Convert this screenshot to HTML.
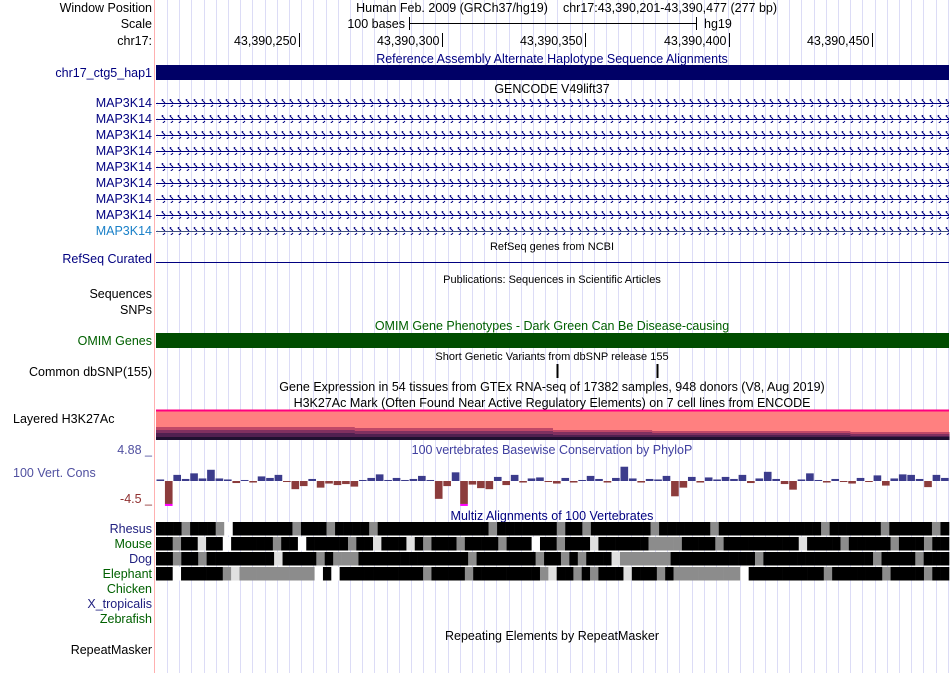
<!DOCTYPE html>
<html><head><meta charset="utf-8">
<style>
body{margin:0;background:#fff;width:950px;height:673px;overflow:hidden;font-family:"Liberation Sans",sans-serif}
svg text{font-family:"Liberation Sans",sans-serif;font-size:12.5px}
</style></head><body>
<svg id="c" width="950" height="673" xmlns="http://www.w3.org/2000/svg">
<defs>
<pattern id="chev" x="0" y="0" width="8" height="8" patternUnits="userSpaceOnUse">
<path d="M5,1 L2,4 L5,7" stroke="#000080" stroke-width="1" fill="none"/>
</pattern>
</defs>
<g id="grid"></g>
<line x1="154.5" y1="0" x2="154.5" y2="673" stroke="#ffb0b0" stroke-width="1"/>
<g id="labels" text-anchor="end">
<text x="152" y="12">Window Position</text>
<text x="152" y="28">Scale</text>
<text x="152" y="45">chr17:</text>
<text x="152" y="77" fill="#000080">chr17_ctg5_hap1</text>
<text x="152" y="263" fill="#000080">RefSeq Curated</text>
<text x="152" y="298">Sequences</text>
<text x="152" y="314">SNPs</text>
<text x="152" y="345" fill="#006000">OMIM Genes</text>
<text x="152" y="376">Common dbSNP(155)</text>
<text x="152" y="454" fill="#5050a0">4.88 _</text>
<text x="152" y="503" fill="#903030">-4.5 _</text>
<text x="152" y="533" fill="#202080">Rhesus</text>
<text x="152" y="548" fill="#006000">Mouse</text>
<text x="152" y="563" fill="#202080">Dog</text>
<text x="152" y="578" fill="#006000">Elephant</text>
<text x="152" y="593" fill="#006000">Chicken</text>
<text x="152" y="608" fill="#202080">X_tropicalis</text>
<text x="152" y="623" fill="#006000">Zebrafish</text>
<text x="152" y="654">RepeatMasker</text>
</g>
<text x="13" y="423">Layered H3K27Ac</text>
<text x="13" y="477" fill="#5050a0">100 Vert. Cons</text>
<g id="titles" text-anchor="middle">
<text x="452" y="12">Human Feb. 2009 (GRCh37/hg19)</text>
<text x="670" y="12">chr17:43,390,201-43,390,477 (277 bp)</text>
<text x="552" y="63" fill="#000080">Reference Assembly Alternate Haplotype Sequence Alignments</text>
<text x="552" y="93">GENCODE V49lift37</text>
<text x="552" y="250" font-size="11" style="font-size:11px">RefSeq genes from NCBI</text>
<text x="552" y="283" style="font-size:11px">Publications: Sequences in Scientific Articles</text>
<text x="552" y="330" fill="#006000">OMIM Gene Phenotypes - Dark Green Can Be Disease-causing</text>
<text x="552" y="360" style="font-size:11px">Short Genetic Variants from dbSNP release 155</text>
<text x="552" y="391">Gene Expression in 54 tissues from GTEx RNA-seq of 17382 samples, 948 donors (V8, Aug 2019)</text>
<text x="552" y="407">H3K27Ac Mark (Often Found Near Active Regulatory Elements) on 7 cell lines from ENCODE</text>
<text x="552" y="454" fill="#4040a0">100 vertebrates Basewise Conservation by PhyloP</text>
<text x="552" y="520" fill="#000080">Multiz Alignments of 100 Vertebrates</text>
<text x="552" y="640">Repeating Elements by RepeatMasker</text>
</g>
<g>
<text x="405" y="28" text-anchor="end">100 bases</text>
<line x1="409" y1="23.5" x2="696" y2="23.5" stroke="#000"/>
<line x1="409.5" y1="17" x2="409.5" y2="30" stroke="#000"/>
<line x1="696.5" y1="17" x2="696.5" y2="30" stroke="#000"/>
<text x="704" y="28">hg19</text>
</g>
<g id="ruler"></g>
<rect x="156" y="65" width="793" height="15" fill="#000066"/>
<g id="genes"></g>
<line x1="156" y1="262.5" x2="949" y2="262.5" stroke="#000080"/>
<rect x="156" y="333" width="793" height="15" fill="#004d00"/>
<g id="snps"></g>
<g id="h3k"></g>
<g id="phylop"></g>
<g id="multiz"></g>
</svg>
<script>
const NS="http://www.w3.org/2000/svg";
const startBase=43390200, endBase=43390477;
const rulerTicks=[43390250,43390300,43390350,43390400,43390450];
const snpPositions=[43390340,43390375];
const phylopVals=[0.3,-4.5,1.2,0.4,1.5,0.5,2.2,0.5,0.3,-0.4,0.2,-0.3,0.9,0.6,1.2,-0.2,-1.6,-1.0,0.4,-1.3,-0.5,-0.8,-0.6,-1.1,0.2,0.6,1.3,0.2,0.6,0.2,0.4,1.0,0.2,-3.5,-1.0,1.7,-4.5,-0.7,-1.4,-1.6,0.8,-0.8,1.2,-0.3,0.5,0.7,-0.2,-0.5,0.6,-0.3,0.2,1.0,0.4,-0.3,0.6,2.8,0.5,-0.3,0.4,0.3,1.0,-3.0,-1.3,0.8,-0.3,0.7,0.3,0.8,0.4,1.2,-0.4,0.5,1.8,0.4,-0.6,-1.7,0.3,1.5,0.2,-0.3,0.4,-0.2,-0.5,0.6,-0.2,1.1,-0.9,0.5,1.3,1.2,0.4,-1.2,1.2,0.6];
const rhesusAln="kkkgkkkgwkkkkkkkgkkkgkkkkgkkkkkkkkkkkkkgkkkkkkkgkkgkkkkkkkgkkkkkkgkkkkkkkkkkkkgkkkkkkgkkkkkgk";
const mouseAln="kkgkklkkwkkkkkgkkwkkkkkgkklkkklkgkkkgkkkkgkkkwkkgkkklkkkkkkggggkkkkgkkkkkkkkklkkkkgkkkkkgkkkgkk";
const dogAln="kkgkkgkkkkkkkklkkkkgkgggkkkkkkkkkkkkkgkkkkkkkgkkgkgkkklggggggkkkkkkkkkkgkkkkkkkkkkkkkgkkkkgkkk";
const elephantAln="kkwkkkkkglgggggggggwkwkkkkkkkkkkgkkkkgkkkkkkkkglkkgkgkkklkkkgkggggggggwkkkkkkkkkgkkkkkkgkkkkgkk";
const h3kLayerColors=["#c04868","#803060","#502050","#201030"];
const h3kLayerDepths=[[13,13,12,12,10,9,9,8],[10,10,9,9,8,7,7,6],[7,7,6,6,5,5,5,4],[3,3,3,3,3,3,3,3]];

const X0=156,X1=949,pxb=(X1-X0)/(endBase-startBase);
const xb=b=>X0+(b-startBase)*pxb;
function mk(tag,attrs,parent){const e=document.createElementNS(NS,tag);for(const k in attrs)e.setAttribute(k,attrs[k]);parent.appendChild(e);return e;}
const $=id=>document.getElementById(id);

// grid
for(let x=167;x<950;x+=12.2){const l=mk('line',{x1:Math.round(x)+.5,y1:0,x2:Math.round(x)+.5,y2:673,stroke:'#dcdcf6'},$('grid'));

}

// ruler
rulerTicks.forEach(b=>{const x=Math.round(xb(b))+.5;
const l=mk('line',{x1:x,y1:33,x2:x,y2:47,stroke:'#000'},$('ruler'));


const t=mk('text',{x:x-3,y:45,'text-anchor':'end'},$('ruler'));
t.textContent=b.toLocaleString('en-US');

});

// gene rows
for(let i=0;i<9;i++){const y=103+i*16;const last=i===8;
const g=mk('g',{},$('genes'));


const t=mk('text',{x:152,y:y+4,'text-anchor':'end',fill:last?'#1a80c8':'#000080'},g);t.textContent='MAP3K14';
mk('rect',{x:157,y:y-4,width:792,height:8,fill:'url(#chev)'},g);
mk('line',{x1:156,y1:y+.5,x2:949,y2:y+.5,stroke:last?'#405080':'#000080'},g);}

// snps
snpPositions.forEach(b=>{const x=Math.round(xb(b))+.5;
const l=mk('line',{x1:x,y1:364,x2:x,y2:378,stroke:'#000',"stroke-width":2},$('snps'));

});

// H3K27Ac
mk('rect',{x:156,y:411,width:793,height:29,fill:'#ff8080'},$('h3k'));
mk('rect',{x:156,y:409.5,width:793,height:2,fill:'#ff0080'},$('h3k'));
const segW=793/h3kLayerDepths[0].length;
h3kLayerDepths.forEach((ds,li)=>ds.forEach((d,i)=>{
const r=mk('rect',{x:X0+i*segW,y:440-d,width:segW+0.5,height:d,fill:h3kLayerColors[li]},$('h3k'));

}));

// phyloP
const base=481,pxu=5.1,bw=793/phylopVals.length;
phylopVals.forEach((v,i)=>{const h=Math.abs(v)*pxu;const x=X0+i*bw;
const r=mk('rect',{x:x+0.5,y:v>=0?base-h:base,width:bw-0.8,height:Math.max(h,1),fill:v>=0?'#3c3c8c':'#8c3c3c'},$('phylop'));


if(v<=-4.5){const m=mk('rect',{x:x+0.5,y:base+h,width:bw-0.8,height:2,fill:'#ff00ff'},$('phylop'));

}});

// multiz
const cols={k:'#000',g:'#8c8c8c',l:'#e0e0e0',w:'#fff'};
[[rhesusAln,522],[mouseAln,537],[dogAln,552],[elephantAln,567]].forEach(([s,y])=>{
const w=793/s.length;
for(let i=0;i<s.length;i++){
const r=mk('rect',{x:X0+i*w,y:y,width:w+0.3,height:13.5,fill:cols[s[i]]},$('multiz'));

}});
</script>
</body></html>
